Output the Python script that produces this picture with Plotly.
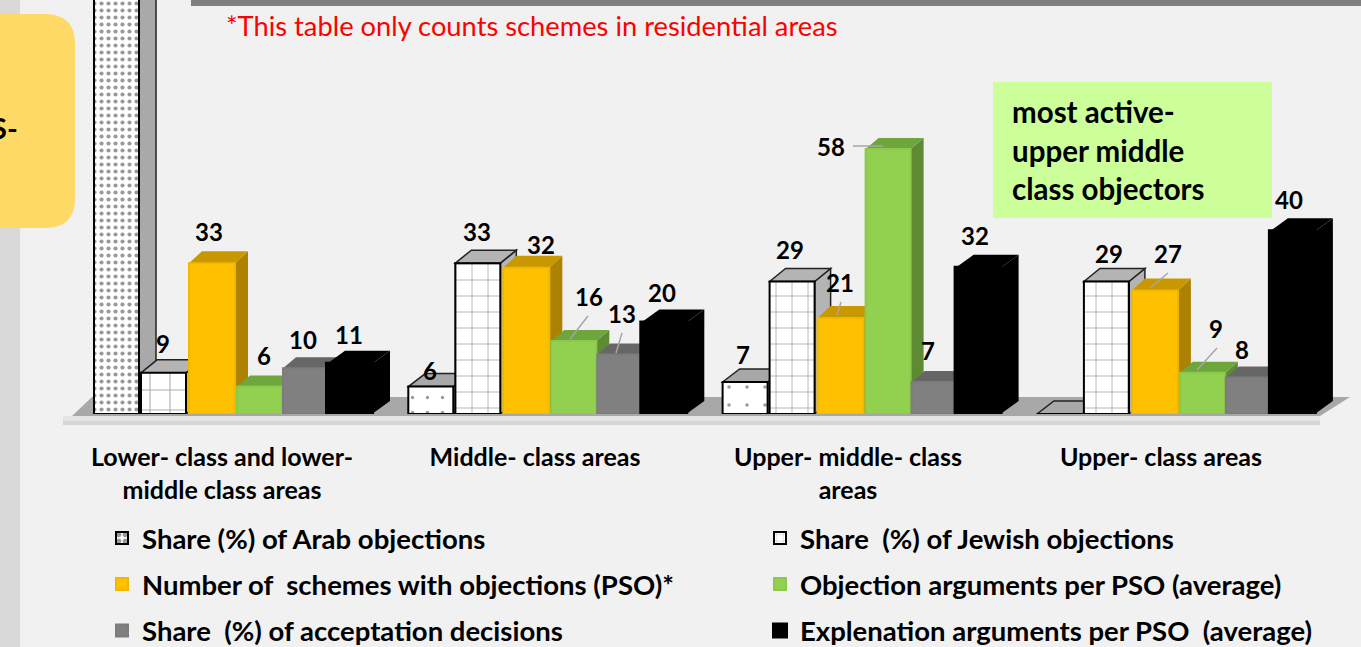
import plotly.graph_objects as go

W, H = 1361, 647
BASE_PX = 414
PX_PER_UNIT = 4.57
GROUP_STEP = 314.3
FONT = "Lato"

categories = ["Lower- class and lower-<br>middle class areas", "Middle- class areas",
              "Upper- middle- class<br>areas", "Upper- class areas"]
arab_share = [91, 6, 7, 0]
jewish_share = [9, 33, 29, 29]
schemes_pso = [33, 32, 21, 27]
objection_args = [6, 16, 58, 9]
acceptation_share = [10, 13, 7, 8]
explanation_args = [11, 20, 32, 40]

names = ["Share (%) of Arab objections", "Share  (%) of Jewish objections",
         "Number of  schemes with objections (PSO)*", "Objection arguments per PSO (average)",
         "Share  (%) of acceptation decisions", "Explenation arguments per PSO  (average)"]
series = [arab_share, jewish_share, schemes_pso, objection_args, acceptation_share, explanation_args]

# styling / layout of each series
left_px = [94, 141, 189, 237, 283, 327]
width_px = [45, 45, 46, 45, 43, 45]
depth_px = [(17, 13), (16, 13), (13, 12), (13, 11), (13, 11), (18, 13)]
front = ["#ffffff", "#ffffff", "#FFC000", "#92D050", "#808080", "#000000"]
side = ["#a9a9a9", "#b4b4b4", "#AD8200", "#5F8A34", "#6a6a6a", "#000000"]
top = ["#a8a8a8", "#b4b4b4", "#C99700", "#6EA53C", "#666666", "#000000"]
edge = ["#000000", "#000000", "#F2B800", "#8CC84B", "#7c7c7c", "#000000"]
edge_w = [2, 2, 2, 2, 2, 4]
patterns = [dict(shape=".", size=[7, 15, 18, 18], solidity=[0.28, 0.04, 0.03, 0.03], fgcolor="#333333", bgcolor="#ffffff"),
            dict(shape="+", size=[20, 16, 16, 16], solidity=0.1, fgcolor="#555555", bgcolor="#ffffff"),
            None, None, None, None]
legend_of = ["legend", "legend2", "legend3", "legend4", "legend5", "legend6"]
legend_px = [(102, 538), (760, 538), (102, 584), (760, 584), (102, 630.5), (760, 630.5)]

# data-label centres, pixels, None where the label is off the picture
label_px = [
    [None, (430, 370), (743, 354), None],
    [(163, 343), (477, 231), (790, 249), (1109, 253)],
    [(209, 231), (541, 244), (840, 282), (1168, 253)],
    [(264, 355), (589, 296), (831, 146), (1216, 328)],
    [(303, 339), (622, 313), (928, 350), (1242, 349)],
    [(349, 334), (662, 292), (975, 235), (1289, 199)],
]
leaders_px = [(588, 316, 570, 339), (622, 333, 616, 353), (853, 146, 883, 146),
              (841, 302, 837, 315), (1168, 273, 1150, 288), (1217, 348, 1197, 370)]


def dy(px):
    return (BASE_PX - px) / PX_PER_UNIT


def px_(x):
    return x / W


def py_(y):
    return 1 - y / BASE_PX


fig = go.Figure()
shapes = []


def rect(x0, y0, x1, y1, color):
    return dict(type="rect", xref="paper", yref="paper", x0=px_(x0), x1=px_(x1), y0=py_(y0), y1=py_(y1),
                fillcolor=color, line_width=0, layer="below")


shapes.append(rect(0, 0, 20, H, "#d9d9d9"))
shapes.append(rect(191, 0, W, 6, "#7f7f7f"))
# yellow box with rounded corners
r = 30
xr, yt, yb = 75, 14, 228
shapes.append(dict(type="path", xref="paper", yref="paper", layer="below", line_width=0, fillcolor="#FFD966",
                   path=f"M {px_(-10)} {py_(yt)} L {px_(xr - r)} {py_(yt)} Q {px_(xr)} {py_(yt)} {px_(xr)} {py_(yt + r)} "
                        f"L {px_(xr)} {py_(yb - r)} Q {px_(xr)} {py_(yb)} {px_(xr - r)} {py_(yb)} L {px_(-10)} {py_(yb)} Z"))
# floor
shapes.append(dict(type="path", xref="paper", yref="paper", layer="below", line_width=0, fillcolor="#a8a8a8",
                   path=f"M {px_(72)} {py_(416)} L {px_(92)} {py_(397)} L {px_(1350)} {py_(397)} L {px_(1320)} {py_(416)} Z"))
shapes.append(rect(63, 416, 1320, 421, "#e4e4e4"))
shapes.append(rect(63, 421, 1320, 425, "#d6d6d6"))

# 3D faces, from the values, through the axes
for j, vals in enumerate(series):
    ddx, ddy = depth_px[j]
    for i, v in enumerate(vals):
        x0 = left_px[j] + GROUP_STEP * i
        x1 = x0 + width_px[j]
        d = ddy / PX_PER_UNIT
        line = dict(color="#222222", width=1.5) if j < 2 else dict(width=0)
        shapes.append(dict(type="path", xref="x", yref="y", layer="below", fillcolor=side[j], line=line,
                           path=f"M {x1} 0 L {x1 + ddx} {d} L {x1 + ddx} {v + d} L {x1} {v} Z"))
        shapes.append(dict(type="path", xref="x", yref="y", layer="below", fillcolor=top[j], line=line,
                           path=f"M {x0} {v} L {x0 + ddx} {v + d} L {x1 + ddx} {v + d} L {x1} {v} Z"))

for j, vals in enumerate(series):
    centers = [left_px[j] + GROUP_STEP * i + width_px[j] / 2 for i in range(len(vals))]
    marker = dict(color=front[j], line=dict(color=edge[j], width=edge_w[j]))
    if patterns[j]:
        marker["pattern"] = patterns[j]
    fig.add_trace(go.Bar(x=centers, y=vals, width=width_px[j], name=names[j], marker=marker, showlegend=True,
                         legend=legend_of[j], cliponaxis=False, hoverinfo="skip"))

for x0, y0, x1, y1 in leaders_px:
    shapes.append(dict(type="line", xref="paper", yref="paper", x0=px_(x0), x1=px_(x1), y0=py_(y0), y1=py_(y1),
                       line=dict(color="#a6a6a6", width=1.5), layer="above"))

# green call-out
shapes.append(dict(type="rect", xref="paper", yref="paper", x0=px_(993), x1=px_(1272), y0=py_(82), y1=py_(218),
                   fillcolor="#CCFF99", line_width=0, layer="above"))

annotations = []
for j, vals in enumerate(series):
    for i, v in enumerate(vals):
        pos = label_px[j][i]
        if pos:
            annotations.append(dict(x=pos[0], y=dy(pos[1]), xref="x", yref="y", text=str(v), showarrow=False,
                                    font=dict(family=FONT, size=24, color="#000000", weight=700),
                                    xanchor="center", yanchor="middle"))

for text, y in [("most active-", 112), ("upper middle", 150), ("class objectors", 188)]:
    annotations.append(dict(x=px_(1010), y=py_(y), xref="paper", yref="paper", text=text, showarrow=False,
                            xanchor="left", yanchor="middle",
                            font=dict(family=FONT, size=29.5, color="#000000", weight=700)))
annotations.append(dict(x=px_(224), y=py_(25), xref="paper", yref="paper",
                        text="*This table only counts schemes in residential areas", showarrow=False,
                        xanchor="left", yanchor="middle", font=dict(family=FONT, size=27.3, color="#FF0000")))
annotations.append(dict(x=px_(20), y=py_(127), xref="paper", yref="paper", text="S-", showarrow=False,
                        xanchor="right", yanchor="middle", font=dict(family=FONT, size=29, color="#000000", weight=700)))

fig.update_layout(
    width=W, height=H,
    autosize=False,
    showlegend=True,
    margin=dict(l=0, r=0, t=0, b=H - BASE_PX, pad=0, autoexpand=False),
    paper_bgcolor="#f1f1f1", plot_bgcolor="rgba(0,0,0,0)",
    barmode="overlay",
    shapes=shapes, annotations=annotations,
    xaxis=dict(range=[0, W], showgrid=False, zeroline=False, showline=False, ticks="outside", ticklen=21,
               tickcolor="rgba(0,0,0,0)", tickvals=[222 + 313 * i for i in range(4)], ticktext=categories,
               tickangle=0, tickfont=dict(family=FONT, size=25, color="#000000", weight=700)),
    yaxis=dict(range=[0, BASE_PX / PX_PER_UNIT], visible=False),
)
for key, (lx, ly) in zip(legend_of, legend_px):
    fig.update_layout({key: dict(bgcolor="rgba(0,0,0,0)", xanchor="left", yanchor="middle", x=px_(lx), y=py_(ly),
                                 visible=True, itemclick=False, itemdoubleclick=False,
                                 font=dict(family=FONT, size=27.5, color="#000000", weight=700))})
fig.write_html("out.html", config=dict(displayModeBar=False),
               post_script="document.body.style.margin='0';document.body.style.overflow='hidden';")
